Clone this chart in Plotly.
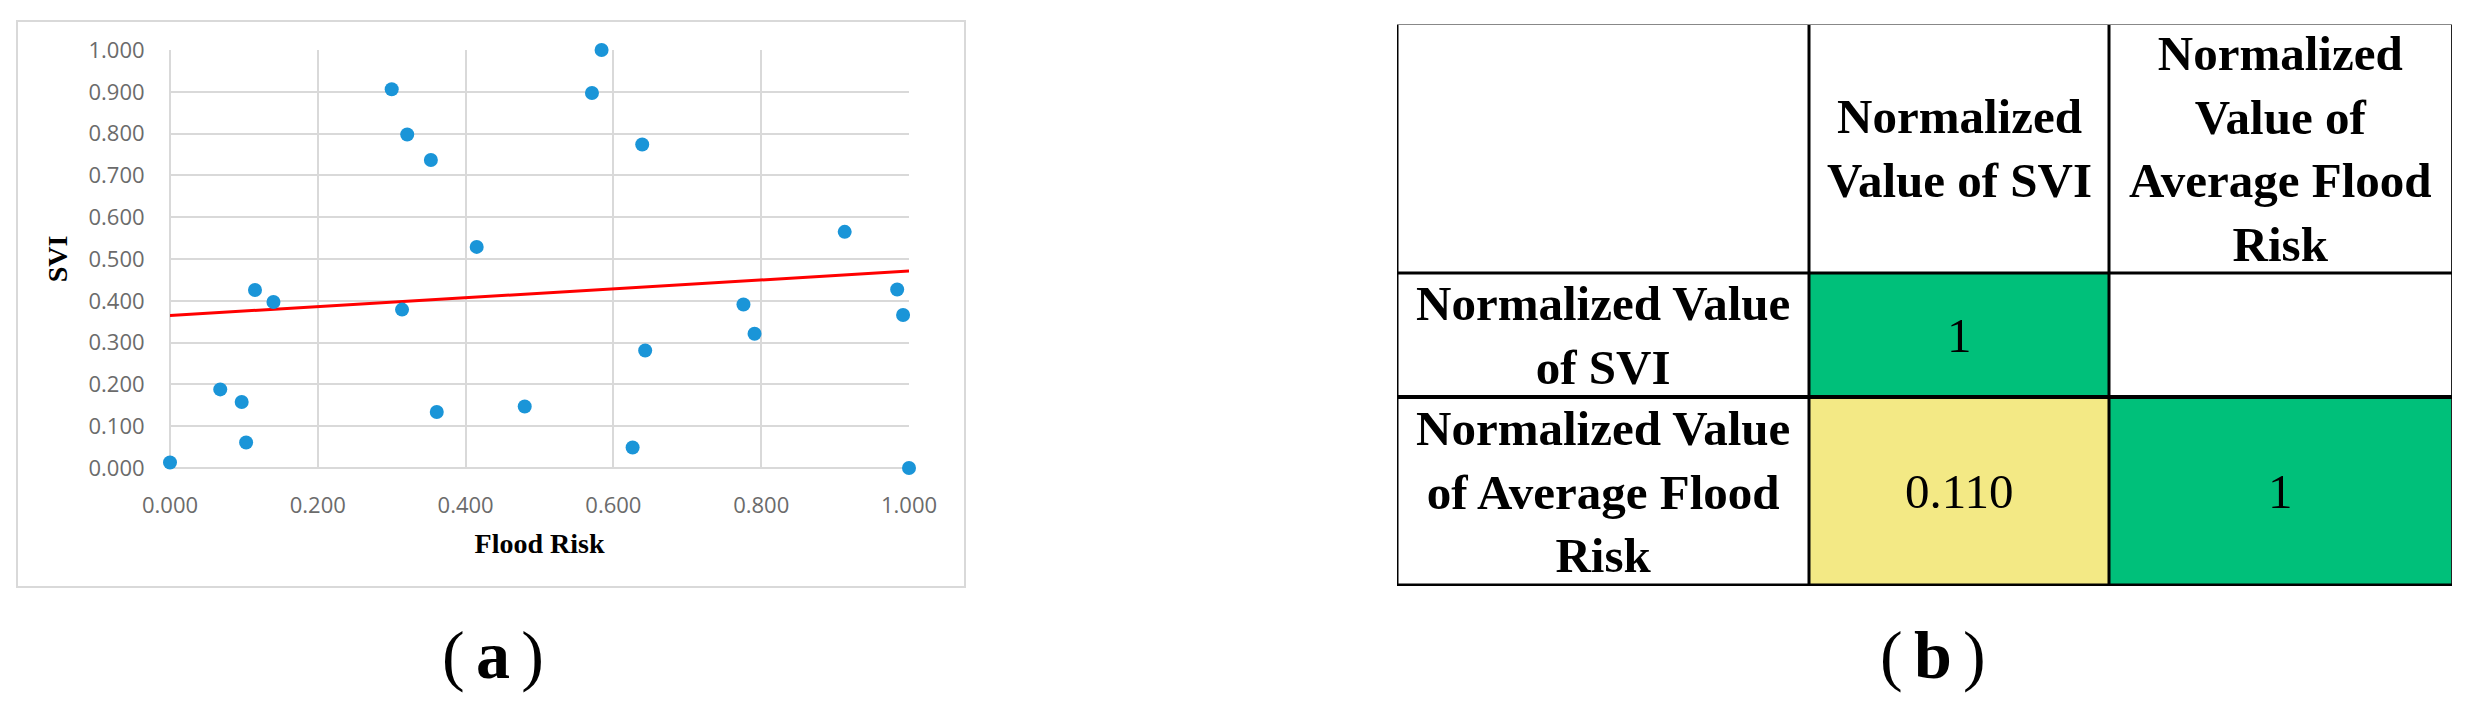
import plotly.graph_objects as go

W, H = 2470, 719

# (a) scatter: normalized flood risk vs SVI
flood_risk = [0.000, 0.068, 0.097, 0.103, 0.115, 0.140, 0.300, 0.321, 0.314, 0.353, 0.361, 0.415,
              0.480, 0.571, 0.584, 0.626, 0.639, 0.643, 0.776, 0.791, 0.913, 0.984, 0.992, 1.000]
svi = [0.013, 0.188, 0.158, 0.061, 0.426, 0.397, 0.906, 0.798, 0.379, 0.737, 0.134, 0.529,
       0.147, 0.897, 1.000, 0.049, 0.774, 0.281, 0.391, 0.321, 0.565, 0.427, 0.366, 0.000]
trend_x = [0.0, 1.0]
trend_y = [0.365, 0.471]
tick_vals_x = [0, 0.2, 0.4, 0.6, 0.8, 1.0]
tick_vals_y = [0, 0.1, 0.2, 0.3, 0.4, 0.5, 0.6, 0.7, 0.8, 0.9, 1.0]

# (b) correlation table
col_labels = ["", "Normalized<br>Value of SVI", "Normalized<br>Value of<br>Average Flood<br>Risk"]
row_labels = ["Normalized Value<br>of SVI", "Normalized Value<br>of Average Flood<br>Risk"]
corr = [[1, None],
        [0.110, 1]]
corr_text = [["1", ""],
             ["0.110", "1"]]

# table geometry (px)
col_w = [412, 300, 343]
row_h = [249, 124, 189]

GREEN = '#00C07A'
YELLOW = '#F3E985'
BLUE = '#1A95D8'
GRID = '#D9D9D9'


def px_x(v):
    return v / W


def px_y(v):
    return 1 - v / H


fig = go.Figure()

fig.add_trace(go.Scatter(x=trend_x, y=trend_y, mode='lines',
                         line=dict(color='#FF0000', width=3), hoverinfo='skip',
                         cliponaxis=False))
fig.add_trace(go.Scatter(x=flood_risk, y=svi, mode='markers',
                         marker=dict(color=BLUE, size=14), cliponaxis=False))

# table as heatmap on its own axes
col_edges = [0]
for w in col_w:
    col_edges.append(col_edges[-1] + w)
row_edges = [0]
for h in row_h:
    row_edges.append(row_edges[-1] + h)

z = [[None, None, None]]
for r in corr:
    z.append([None] + r)

fig.add_trace(go.Heatmap(x=col_edges, y=row_edges, z=z, xaxis='x2', yaxis='y2',
                         zmin=0, zmax=1, showscale=False, hoverinfo='skip',
                         colorscale=[[0, YELLOW], [0.5, YELLOW], [0.5, GREEN], [1, GREEN]]))

tfont = dict(family='Liberation Serif, Times New Roman, serif', size=49, color='black')
ann = []
for j, lab in enumerate(col_labels):
    if lab:
        ann.append(dict(x=(col_edges[j] + col_edges[j + 1]) / 2, y=row_h[0] / 2,
                        xref='x2', yref='y2', text='<b>' + lab + '</b>', showarrow=False,
                        font=tfont, align='center'))
for i, lab in enumerate(row_labels):
    yc = (row_edges[i + 1] + row_edges[i + 2]) / 2
    ann.append(dict(x=col_w[0] / 2, y=yc, xref='x2', yref='y2', text='<b>' + lab + '</b>',
                    showarrow=False, font=tfont, align='center'))
    for j, t in enumerate(corr_text[i]):
        if t:
            ann.append(dict(x=(col_edges[j + 1] + col_edges[j + 2]) / 2, y=yc,
                            xref='x2', yref='y2', text=t, showarrow=False, font=tfont))

shapes = []
# chart (a) frame
shapes.append(dict(type='rect', xref='paper', yref='paper', x0=px_x(17), x1=px_x(965),
                   y0=px_y(587), y1=px_y(21), line=dict(color=GRID, width=2), layer='below'))
# table lines
for k, xe in enumerate(col_edges):
    shapes.append(dict(type='line', xref='x2', yref='y2', x0=xe, x1=xe, y0=0, y1=row_edges[-1],
                       line=dict(color='black' if k < 3 else '#222', width=3 if k < 3 else 2)))
hstyle = [('#888888', 2), ('black', 3), ('black', 4), ('black', 5)]
for k, ye in enumerate(row_edges):
    shapes.append(dict(type='line', xref='x2', yref='y2', x0=0, x1=col_edges[-1], y0=ye, y1=ye,
                       line=dict(color=hstyle[k][0], width=hstyle[k][1])))

# panel labels
lfont = dict(family='Liberation Serif, Times New Roman, serif', size=68, color='black')
for lab, xc in [('a', 493), ('b', 1933)]:
    ann.append(dict(x=px_x(xc), y=px_y(655), xref='paper', yref='paper',
                    text='(\u2006<b>' + lab + '</b>\u2006)', showarrow=False, font=lfont,
                    xanchor='center', yanchor='middle'))

tickfont = dict(family='Liberation Sans Narrow, Open Sans, sans-serif', size=22, color='#6b6b6b')
titlefont = dict(family='Liberation Serif, Times New Roman, serif', size=28, color='black')

fig.update_layout(
    width=W, height=H,
    margin=dict(l=0, r=0, t=0, b=0, autoexpand=False),
    paper_bgcolor='white', plot_bgcolor='white',
    showlegend=False,
    shapes=shapes, annotations=ann,
    xaxis=dict(domain=[px_x(170), px_x(909)], range=[0, 1], tickvals=tick_vals_x,
               tickformat='.3f', showgrid=True, gridcolor=GRID, gridwidth=2,
               zeroline=True, zerolinecolor=GRID, zerolinewidth=2, showline=False,
               ticks='outside', ticklen=18, tickcolor='rgba(0,0,0,0)', tickfont=tickfont,
               title=dict(text='<b>Flood Risk</b>', font=titlefont, standoff=14),
               automargin=False, fixedrange=True),
    yaxis=dict(domain=[px_y(468), px_y(50)], range=[0, 1], tickvals=tick_vals_y,
               tickformat='.3f', showgrid=True, gridcolor=GRID, gridwidth=2,
               zeroline=True, zerolinecolor=GRID, zerolinewidth=2, showline=False,
               ticks='outside', ticklen=20, tickcolor='rgba(0,0,0,0)', tickfont=tickfont,
               title=dict(text='<b>SVI</b>', font=titlefont, standoff=12),
               automargin=False, fixedrange=True),
    xaxis2=dict(domain=[px_x(1397), px_x(2452)], range=[0, col_edges[-1]], visible=False,
                anchor='y2', automargin=False, fixedrange=True),
    yaxis2=dict(domain=[px_y(586), px_y(24)], range=[row_edges[-1], 0], visible=False,
                anchor='x2', automargin=False, fixedrange=True),
)

fig.write_html("out.html", config={'displayModeBar': False},
               post_script="document.body.style.margin='0';document.body.style.overflow='hidden';")
